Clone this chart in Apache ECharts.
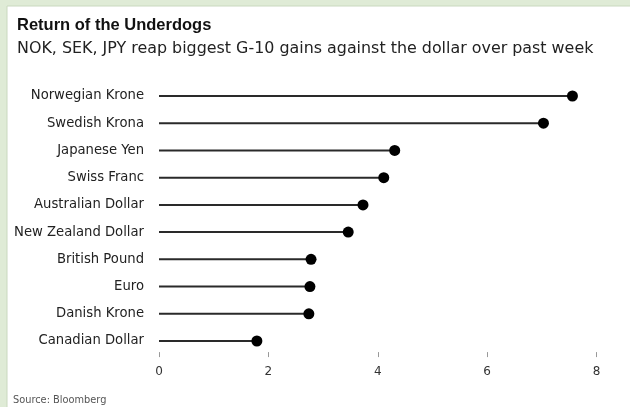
<!DOCTYPE html>
<html>
	<head>
		<meta charset="utf-8">
		<title>Return of the Underdogs</title>
		<script src="https://cdn.jsdelivr.net/npm/echarts@6/dist/echarts.min.js"></script>
		<style>
			html, body { margin: 0; padding: 0; }
		</style>
	</head>
	<body>
		<div id="main" style="width: 630px;height:407px;"></div>
		<script type="text/javascript">
			// currencies, top to bottom
			var currencies = ['Norwegian Krone', 'Swedish Krona', 'Japanese Yen', 'Swiss Franc', 'Australian Dollar',
				'New Zealand Dollar', 'British Pound', 'Euro', 'Danish Krone', 'Canadian Dollar'];
			// % gain against the dollar over past week
			var gains = [7.56, 7.03, 4.31, 4.11, 3.73, 3.46, 2.78, 2.76, 2.74, 1.79];
			var xTicks = [0, 2, 4, 6, 8];

			var font = '"Liberation Sans", Arial, sans-serif';
			var wide = '"DejaVu Sans", Verdana, sans-serif';
			var myChart = echarts.init(document.getElementById('main'));

			var option = {
				backgroundColor: '#dfebd6',
				animation: false,
				textStyle: { fontFamily: font },
				graphic: [
					{
						type: 'rect',
						z: -10,
						shape: { x: 7, y: 6, width: 630, height: 410 },
						style: { fill: '#ffffff', stroke: '#c9d8bf', lineWidth: 1 }
					}
				],
				title: [
					{
						text: 'Return of the Underdogs',
						subtext: 'NOK, SEK, JPY reap biggest G-10 gains against the dollar over past week',
						left: 12,
						top: 12,
						itemGap: 7,
						textStyle: { fontFamily: font, fontSize: 16.5, fontWeight: 'bold', color: '#111' },
						subtextStyle: { fontFamily: wide, fontSize: 15.9, color: '#222' }
					},
					{
						text: 'Source: Bloomberg',
						left: 8,
						top: 390,
						textStyle: { fontFamily: wide, fontSize: 9.8, fontWeight: 'normal', color: '#555' }
					}
				],
				grid: {
					left: 159,
					right: 33.5,
					top: 82.4,
					bottom: 52.4
				},
				xAxis: {
					type: 'value',
					min: xTicks[0],
					max: xTicks[xTicks.length - 1],
					interval: xTicks[1] - xTicks[0],
					offset: -2.5,
					axisLine: { show: false },
					axisTick: { show: true, length: 5, lineStyle: { color: '#999', width: 1 } },
					splitLine: { show: false },
					axisLabel: { margin: 14, fontSize: 12, color: '#333', fontFamily: wide }
				},
				yAxis: {
					type: 'category',
					inverse: true,
					data: currencies,
					axisLine: { show: false },
					axisTick: { show: false },
					axisLabel: { margin: 15, fontSize: 13.2, color: '#222', fontFamily: wide }
				},
				series: [
					{
						type: 'bar',
						data: gains,
						barWidth: 2,
						itemStyle: { color: '#2a2a2a' },
						silent: true
					},
					{
						type: 'scatter',
						data: gains.map(function (v, i) { return [v, currencies[i]]; }),
						symbolSize: 11,
						itemStyle: { color: '#000', opacity: 1 },
						z: 3
					}
				]
			};

			myChart.setOption(option);
		</script>
	</body>
</html>
